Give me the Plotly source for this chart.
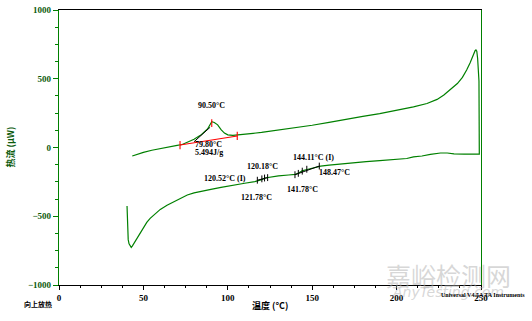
import plotly.graph_objects as go

# Lower curve, ascending temperature
lower_x = [40.3, 40.4, 40.5, 41.0, 41.5, 42.2, 42.8, 43.5, 45, 46, 48, 50, 52, 54, 57, 60, 64, 68, 72, 76, 80, 84,
           90, 96, 103, 110, 116, 119, 120.5, 122, 124, 130, 136, 140, 142, 144, 147, 150, 155, 160, 166, 175, 182,
           190, 196, 202, 206, 210, 215, 220, 226, 230, 234, 240, 249]
lower_y = [-425, -500, -595, -670, -700, -720, -726, -715, -685, -661, -620, -576, -545, -515, -480, -450, -420,
           -394, -368, -345, -330, -318, -305, -290, -273, -260, -248, -240, -232, -222, -218, -207, -200, -195,
           -185, -170, -160, -150, -135, -128, -120, -110, -103, -95, -88, -84, -80, -68, -62, -50, -40, -40, -47,
           -48, -48]

# Upper curve, ascending temperature
upper_x = [43.4, 46, 50, 55, 60, 65, 70, 73, 76, 80, 84, 88, 90.5, 92, 94, 96, 98, 100, 103, 106, 110, 115, 120,
           130, 140, 150, 160, 170, 180, 190, 200, 210, 218, 224, 228, 232, 236, 239, 241.5, 243.5, 245.5, 246.5,
           247, 247.5, 248, 248.5, 248.8]
upper_y = [-62, -50, -35, -20, -5, 5, 15, 22, 35, 60, 90, 135, 188, 182, 165, 130, 105, 92, 88, 88, 95, 103, 110,
           125, 143, 162, 183, 202, 226, 246, 268, 295, 320, 350, 382, 420, 465, 510, 564, 615, 670, 704, 710, 700,
           649, 560, 484]

# Analysis markers
baseline_x = [71.7, 105.6]
baseline_y = [18, 84]
peak_T = 90.5
tangent_x = [80, 89.5]
tangent_y = [42, 147]
gt1_ticks = [117.5, 120.18, 121.78, 123.6]
gt1_y = [-238, -228, -222, -219]
gt2_ticks = [139.8, 141.78, 144.11, 146.8, 154.2]
gt2_y = [-198, -188, -172, -158, -135]

labels = [
    ("90.50°C", 90.6, 302, "center"),
    ("79.80°C", 79.4, 22, "left"),
    ("5.494J/g", 79.4, -35, "left"),
    ("120.18°C", 120.8, -140, "center"),
    ("120.52°C (I)", 112.0, -229, "right"),
    ("121.78°C", 117.0, -360, "center"),
    ("144.11°C (I)", 150.5, -76, "center"),
    ("141.78°C", 144.5, -302, "center"),
    ("148.47°C", 163.5, -185, "center"),
]

GREEN = "#008000"
DKGREEN = "#0b5a0b"

fig = go.Figure()

curve_x = lower_x + upper_x[::-1]
curve_y = lower_y + upper_y[::-1]
fig.add_trace(go.Scatter(x=curve_x, y=curve_y, mode="lines", line=dict(color=GREEN, width=1.2),
                         hoverinfo="skip", showlegend=False))

# red baseline with end/peak ticks
fig.add_trace(go.Scatter(x=baseline_x, y=baseline_y, mode="lines", line=dict(color="red", width=1.1),
                         showlegend=False, hoverinfo="skip"))
rx, ry = [], []
for xv, yv in zip(baseline_x, baseline_y):
    rx += [xv, xv, None]
    ry += [yv + 30, yv - 30, None]
rx += [peak_T, peak_T, None]
ry += [205, 150, None]
fig.add_trace(go.Scatter(x=rx, y=ry, mode="lines", line=dict(color="red", width=1.1),
                         showlegend=False, hoverinfo="skip"))

# black tangent + glass transition markers
bx = tangent_x + [None]
by = tangent_y + [None]
for xv, yv in zip(gt1_ticks + gt2_ticks, gt1_y + gt2_y):
    bx += [xv, xv, None]
    by += [yv + 25, yv - 25, None]
bx += [gt1_ticks[0], gt1_ticks[-1], None, gt2_ticks[0], gt2_ticks[-1], None]
by += [gt1_y[0], gt1_y[-1], None, gt2_y[0], gt2_y[-1], None]
fig.add_trace(go.Scatter(x=bx, y=by, mode="lines", line=dict(color="black", width=1),
                         showlegend=False, hoverinfo="skip"))

afont = dict(family="Liberation Serif", size=8, color="black", weight="bold")
for txt, xv, yv, al in labels:
    fig.add_annotation(x=xv, y=yv, text=txt, showarrow=False, font=afont, xanchor=al, yanchor="middle")

# paper texts
fig.add_annotation(xref="paper", yref="paper", x=0.922, y=0.036, text="嘉峪检测网", showarrow=False,
                   font=dict(family="Noto Sans CJK SC", size=25, color="rgba(175,175,175,0.5)"),
                   xanchor="center", yanchor="middle")
fig.add_annotation(xref="paper", yref="paper", x=0.922, y=-0.027, text="<i>AnyTesting.com</i>", showarrow=False,
                   font=dict(family="DejaVu Sans", size=14, color="rgba(175,175,175,0.5)"),
                   xanchor="center", yanchor="middle")
fig.add_annotation(xref="paper", yref="paper", x=1.109, y=-0.037, text="Universal V4.5A TA Instruments",
                   showarrow=False, font=dict(family="Liberation Serif", size=6, color="black", weight="bold"),
                   xanchor="right", yanchor="middle")
fig.add_annotation(xref="paper", yref="paper", x=-0.05, y=-0.069, text="向上放热", showarrow=False,
                   font=dict(family="Noto Sans CJK SC", size=7, color="black", weight="bold"),
                   xanchor="center", yanchor="middle")
fig.add_annotation(xref="paper", yref="paper", x=0.5, y=-0.076, text="温度 (°C)", showarrow=False,
                   font=dict(family="Noto Sans CJK SC", size=9, color="black", weight="bold"),
                   xanchor="center", yanchor="middle")
fig.add_annotation(xref="paper", yref="paper", x=-0.116, y=0.5, text="热流 (μW)", showarrow=False,
                   textangle=-90,
                   font=dict(family="Noto Sans CJK SC", size=9, color=DKGREEN, weight="bold"),
                   xanchor="center", yanchor="middle")

fig.update_layout(
    width=532, height=321,
    margin=dict(l=59, r=51, t=10, b=36, autoexpand=False),
    paper_bgcolor="white", plot_bgcolor="white",
    xaxis=dict(range=[0, 250], tickvals=[0, 50, 100, 150, 200, 250], showgrid=False, zeroline=False,
               automargin=False,
               showline=True, linecolor="black", linewidth=1.2, mirror=True,
               ticks="outside", ticklen=4, tickcolor="black",
               minor=dict(dtick=12.5, tick0=0, ticks="outside", ticklen=2, tickcolor="black"),
               tickfont=dict(family="Liberation Serif", size=9, color="black", weight="bold")),
    yaxis=dict(range=[-1000, 1000], tickvals=[-1000, -500, 0, 500, 1000], showgrid=False, zeroline=False,
               automargin=False,
               showline=True, linecolor=GREEN, linewidth=1.2, mirror=True,
               ticks="outside", ticklen=5, tickcolor=GREEN,
               minor=dict(dtick=125, tick0=0, ticks="outside", ticklen=3, tickcolor=GREEN),
               tickfont=dict(family="Liberation Serif", size=9, color=DKGREEN, weight="bold")),
)

fig.write_html("out.html")
